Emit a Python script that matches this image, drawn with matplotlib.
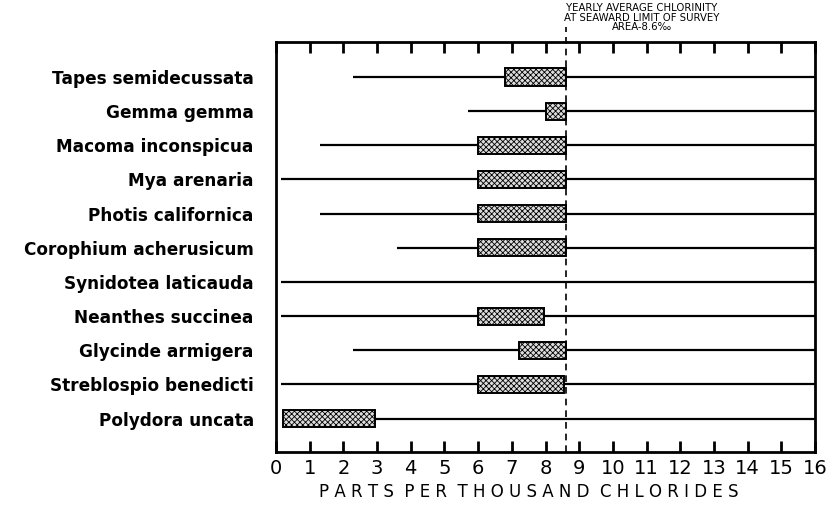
import matplotlib
matplotlib.use("Agg")
import matplotlib.pyplot as plt

# species from top to bottom
species = ["Tapes semidecussata", "Gemma gemma", "Macoma inconspicua",
           "Mya arenaria", "Photis californica", "Corophium acherusicum",
           "Synidotea laticauda", "Neanthes succinea", "Glycinde armigera",
           "Streblospio benedicti", "Polydora uncata"]
# range of chlorinity where found (parts per thousand)
range_lo = [2.3, 5.7, 1.3, 0.15, 1.3, 3.6, 0.15, 0.15, 2.3, 0.15, 0.2]
range_hi = [16, 16, 16, 16, 16, 16, 16, 16, 16, 16, 16]
# range of maximum abundance (None = no box)
box_lo = [6.8, 8.0, 6.0, 6.0, 6.0, 6.0, None, 6.0, 7.2, 6.0, 0.2]
box_hi = [8.6, 8.6, 8.6, 8.6, 8.6, 8.6, None, 7.95, 8.6, 8.55, 2.95]
seaward_avg = 8.6
xticks = list(range(0, 17))

plt.rcParams['hatch.linewidth'] = 0.6
fig = plt.figure(figsize=(8.3, 5.08), dpi=100)
ax = fig.add_axes([0.3325, 0.110, 0.6495, 0.807])

for i, name in enumerate(species):
    ax.plot([range_lo[i], range_hi[i]], [i, i], color="black", lw=1.6,
            zorder=2, solid_capstyle="butt")
    if box_lo[i] is not None:
        ax.barh(i, box_hi[i] - box_lo[i], left=box_lo[i], height=0.5,
                facecolor="#dcdcdc", edgecolor="black", linewidth=1.4,
                hatch="xxxxxx", zorder=3)

ax.set_xlim(0, 16)
ax.set_ylim(10.98, -1.02)
ax.set_yticks(range(len(species)))
ax.set_yticklabels(species, fontsize=12.2, fontweight="bold")
ax.tick_params(axis="y", length=0, pad=16)

ax.set_xticks(xticks)
ax.set_xticklabels([str(t) for t in xticks], fontsize=14)
ax.tick_params(axis="x", direction="in", length=8, width=2, top=True,
               bottom=True, pad=5)
ax.set_xlabel("P A R T S   P E R   T H O U S A N D   C H L O R I D E S".replace("   ", "  "),
              fontsize=12)
ax.xaxis.set_label_coords(0.468, -0.075)
for s in ax.spines.values():
    s.set_linewidth(2)

# dashed line for yearly average, running above the top frame
ax.plot([seaward_avg, seaward_avg], [10.98, -1.45], color="black", lw=1.2,
        ls=(0, (4, 3)), clip_on=False, zorder=4)
fig.text(0.773, 0.937, "YEARLY AVERAGE CHLORINITY\nAT SEAWARD LIMIT OF SURVEY\nAREA-8.6‰",
         ha="center", va="bottom", fontsize=7.3, linespacing=0.92)

fig.savefig("out.png", dpi=100, facecolor="white")
